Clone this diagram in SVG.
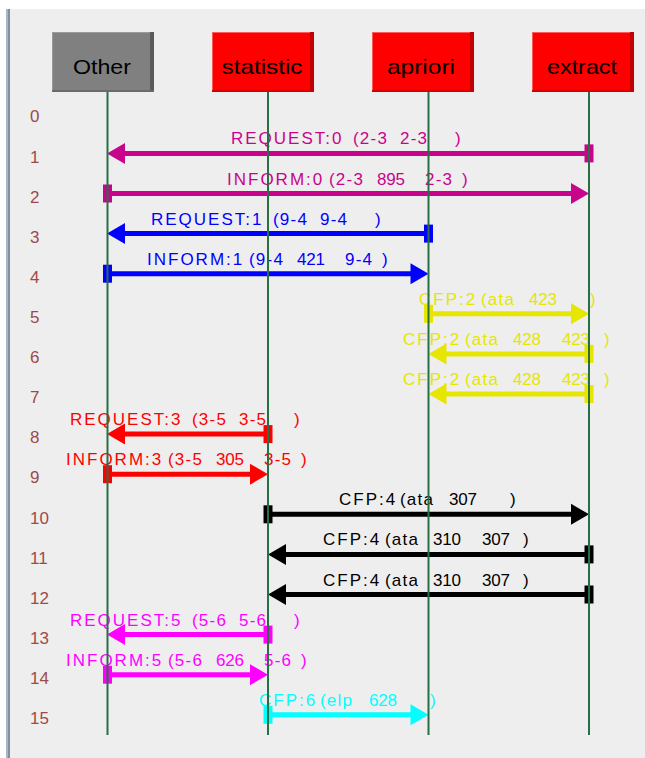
<svg xmlns="http://www.w3.org/2000/svg" xmlns:xlink="http://www.w3.org/1999/xlink" width="645" height="758" viewBox="0 0 645 758">
  <style>
    .name { font-family: "Liberation Sans", Arial, sans-serif; font-size: 21px; fill: #000; text-anchor: middle; }
    .lbl { font-family: "Liberation Sans", Arial, sans-serif; font-size: 17px; }
    .w { letter-spacing: 2px; }
    .p { letter-spacing: 1.2px; }
    .d { letter-spacing: -0.2px; }
    .num { font-family: "Liberation Sans", Arial, sans-serif; font-size: 17px; fill: #9e4a4a; }
    .life { stroke: #267044; stroke-width: 2; }
    .shaft { stroke-width: 5; }
  </style>
  <defs>
    <!-- arrowhead, tip at origin pointing +x -->
    <path id="hd" d="M0 0 L-18 -10.5 L-18 10.5 Z"/>
    <!-- start tick, centred on origin -->
    <rect id="tk" x="-4.5" y="-9" width="9" height="18"/>
  </defs>

  <!-- panel -->
  <rect x="0" y="0" width="645" height="758" fill="#ffffff"/>
  <rect x="6" y="9" width="639" height="749" fill="#eeeeee"/>
  <rect x="6" y="9" width="2" height="749" fill="#aab6c4"/>
  <rect x="8" y="9" width="2" height="749" fill="#7f90a4"/>

  <!-- row numbers -->
  <g id="rows" class="num">
    <text x="30" y="122">0</text>
    <text x="30" y="162.6">1</text>
    <text x="30" y="202.7">2</text>
    <text x="30" y="242.8">3</text>
    <text x="30" y="282.9">4</text>
    <text x="30" y="323">5</text>
    <text x="30" y="363.1">6</text>
    <text x="30" y="403.2">7</text>
    <text x="30" y="443.3">8</text>
    <text x="30" y="483.4">9</text>
    <text x="30" y="523.5">10</text>
    <text x="30" y="563.6">11</text>
    <text x="30" y="603.7">12</text>
    <text x="30" y="643.8">13</text>
    <text x="30" y="683.9">14</text>
    <text x="30" y="724">15</text>
  </g>

  <!-- messages -->
  <g id="connectors" class="lbl">
    <g id="m1" transform="translate(0,153.4)" fill="#c8048c">
      <line class="shaft" x1="589" y1="0" x2="120" y2="0" stroke="#c8048c"/>
      <use xlink:href="#tk" x="589"/>
      <use xlink:href="#hd" transform="translate(107,0) scale(-1,1)"/>
      <text y="-9"><tspan class="w" x="231">REQUEST:0</tspan><tspan class="p" x="353">(2-3</tspan><tspan class="p" x="400">2-3</tspan><tspan x="455">)</tspan></text>
    </g>
    <g id="m2" transform="translate(0,193.5)" fill="#c8048c">
      <line class="shaft" x1="107" y1="0" x2="576" y2="0" stroke="#c8048c"/>
      <use xlink:href="#tk" x="107.5"/>
      <use xlink:href="#hd" transform="translate(589,0)"/>
      <text y="-9"><tspan class="w" x="227">INFORM:0</tspan><tspan class="p" x="329">(2-3</tspan><tspan class="d" x="377">895</tspan><tspan class="p" x="425">2-3</tspan><tspan x="462">)</tspan></text>
    </g>
    <g id="m3" transform="translate(0,233.6)" fill="#0000ff">
      <line class="shaft" x1="428.5" y1="0" x2="120" y2="0" stroke="#0000ff"/>
      <use xlink:href="#tk" x="428.5"/>
      <use xlink:href="#hd" transform="translate(107,0) scale(-1,1)"/>
      <text y="-9"><tspan class="w" x="151">REQUEST:1</tspan><tspan class="p" x="273">(9-4</tspan><tspan class="p" x="320">9-4</tspan><tspan x="375">)</tspan></text>
    </g>
    <g id="m4" transform="translate(0,273.7)" fill="#0000ff">
      <line class="shaft" x1="107" y1="0" x2="416" y2="0" stroke="#0000ff"/>
      <use xlink:href="#tk" x="107.5"/>
      <use xlink:href="#hd" transform="translate(428.5,0)"/>
      <text y="-9"><tspan class="w" x="147">INFORM:1</tspan><tspan class="p" x="249">(9-4</tspan><tspan class="d" x="297">421</tspan><tspan class="p" x="345">9-4</tspan><tspan x="382">)</tspan></text>
    </g>
    <g id="m5" transform="translate(0,313.8)" fill="#e6e600">
      <line class="shaft" x1="428.5" y1="0" x2="576" y2="0" stroke="#e6e600"/>
      <use xlink:href="#tk" x="428.5"/>
      <use xlink:href="#hd" transform="translate(589,0)"/>
      <text y="-9"><tspan class="w" x="419">CFP:2</tspan><tspan class="p" x="481">(ata</tspan><tspan class="d" x="529">423</tspan><tspan x="590">)</tspan></text>
    </g>
    <g id="m6" transform="translate(0,353.9)" fill="#e6e600">
      <line class="shaft" x1="589" y1="0" x2="441" y2="0" stroke="#e6e600"/>
      <use xlink:href="#tk" x="589"/>
      <use xlink:href="#hd" transform="translate(428.5,0) scale(-1,1)"/>
      <text y="-9"><tspan class="w" x="403">CFP:2</tspan><tspan class="p" x="465">(ata</tspan><tspan class="d" x="513">428</tspan><tspan class="d" x="562">423</tspan><tspan x="604">)</tspan></text>
    </g>
    <g id="m7" transform="translate(0,394)" fill="#e6e600">
      <line class="shaft" x1="589" y1="0" x2="441" y2="0" stroke="#e6e600"/>
      <use xlink:href="#tk" x="589"/>
      <use xlink:href="#hd" transform="translate(428.5,0) scale(-1,1)"/>
      <text y="-9"><tspan class="w" x="403">CFP:2</tspan><tspan class="p" x="465">(ata</tspan><tspan class="d" x="513">428</tspan><tspan class="d" x="562">423</tspan><tspan x="604">)</tspan></text>
    </g>
    <g id="m8" transform="translate(0,434.1)" fill="#ff0000">
      <line class="shaft" x1="268" y1="0" x2="120" y2="0" stroke="#ff0000"/>
      <use xlink:href="#tk" x="268"/>
      <use xlink:href="#hd" transform="translate(107,0) scale(-1,1)"/>
      <text y="-9"><tspan class="w" x="70">REQUEST:3</tspan><tspan class="p" x="192">(3-5</tspan><tspan class="p" x="239">3-5</tspan><tspan x="294">)</tspan></text>
    </g>
    <g id="m9" transform="translate(0,474.2)" fill="#ff0000">
      <line class="shaft" x1="107" y1="0" x2="255" y2="0" stroke="#ff0000"/>
      <use xlink:href="#tk" x="107.5"/>
      <use xlink:href="#hd" transform="translate(268,0)"/>
      <text y="-9"><tspan class="w" x="66">INFORM:3</tspan><tspan class="p" x="168">(3-5</tspan><tspan class="d" x="216">305</tspan><tspan class="p" x="264">3-5</tspan><tspan x="301">)</tspan></text>
    </g>
    <g id="m10" transform="translate(0,514.3)" fill="#000000">
      <line class="shaft" x1="268" y1="0" x2="576" y2="0" stroke="#000000"/>
      <use xlink:href="#tk" x="268"/>
      <use xlink:href="#hd" transform="translate(589,0)"/>
      <text y="-9"><tspan class="w" x="339">CFP:4</tspan><tspan class="p" x="400">(ata</tspan><tspan class="d" x="449">307</tspan><tspan x="510">)</tspan></text>
    </g>
    <g id="m11" transform="translate(0,554.4)" fill="#000000">
      <line class="shaft" x1="589" y1="0" x2="281" y2="0" stroke="#000000"/>
      <use xlink:href="#tk" x="589"/>
      <use xlink:href="#hd" transform="translate(268,0) scale(-1,1)"/>
      <text y="-9"><tspan class="w" x="323">CFP:4</tspan><tspan class="p" x="385">(ata</tspan><tspan class="d" x="433">310</tspan><tspan class="d" x="482">307</tspan><tspan x="523">)</tspan></text>
    </g>
    <g id="m12" transform="translate(0,594.5)" fill="#000000">
      <line class="shaft" x1="589" y1="0" x2="281" y2="0" stroke="#000000"/>
      <use xlink:href="#tk" x="589"/>
      <use xlink:href="#hd" transform="translate(268,0) scale(-1,1)"/>
      <text y="-9"><tspan class="w" x="323">CFP:4</tspan><tspan class="p" x="385">(ata</tspan><tspan class="d" x="433">310</tspan><tspan class="d" x="482">307</tspan><tspan x="523">)</tspan></text>
    </g>
    <g id="m13" transform="translate(0,634.6)" fill="#ff00ff">
      <line class="shaft" x1="268" y1="0" x2="120" y2="0" stroke="#ff00ff"/>
      <use xlink:href="#tk" x="268"/>
      <use xlink:href="#hd" transform="translate(107,0) scale(-1,1)"/>
      <text y="-9"><tspan class="w" x="70">REQUEST:5</tspan><tspan class="p" x="192">(5-6</tspan><tspan class="p" x="239">5-6</tspan><tspan x="294">)</tspan></text>
    </g>
    <g id="m14" transform="translate(0,674.7)" fill="#ff00ff">
      <line class="shaft" x1="107" y1="0" x2="255" y2="0" stroke="#ff00ff"/>
      <use xlink:href="#tk" x="107.5"/>
      <use xlink:href="#hd" transform="translate(268,0)"/>
      <text y="-9"><tspan class="w" x="66">INFORM:5</tspan><tspan class="p" x="168">(5-6</tspan><tspan class="d" x="216">626</tspan><tspan class="p" x="264">5-6</tspan><tspan x="301">)</tspan></text>
    </g>
    <g id="m15" transform="translate(0,714.8)" fill="#00ffff">
      <line class="shaft" x1="268" y1="0" x2="416" y2="0" stroke="#00ffff"/>
      <use xlink:href="#tk" x="268"/>
      <use xlink:href="#hd" transform="translate(428.5,0)"/>
      <text y="-9"><tspan class="w" x="259">CFP:6</tspan><tspan class="p" x="320">(elp</tspan><tspan class="d" x="369">628</tspan><tspan x="430">)</tspan></text>
    </g>
  </g>

  <!-- agents: header box and lifeline -->
  <g id="node-other">
    <rect x="52" y="32" width="102" height="60" fill="#808080"/>
    <rect x="52" y="32" width="102" height="1" fill="#9a9a9a"/>
    <rect x="52" y="32" width="1" height="60" fill="#9a9a9a"/>
    <rect x="150" y="32" width="4" height="60" fill="#5a5a5a"/>
    <rect x="52" y="90" width="102" height="2" fill="#6a6a6a"/>
    <text class="name" x="102" y="73.5" textLength="58" lengthAdjust="spacingAndGlyphs">Other</text>
    <line class="life" x1="107.5" y1="92" x2="107.5" y2="735"/>
  </g>
  <g id="node-statistic">
    <rect x="212" y="32" width="102" height="60" fill="#ff0000"/>
    <rect x="212" y="32" width="102" height="1" fill="#ff5a5a"/>
    <rect x="212" y="32" width="1" height="60" fill="#ff5a5a"/>
    <rect x="310" y="32" width="4" height="60" fill="#c00000"/>
    <rect x="212" y="90" width="102" height="2" fill="#d40000"/>
    <text class="name" x="262" y="73.5" textLength="81" lengthAdjust="spacingAndGlyphs">statistic</text>
    <line class="life" x1="268" y1="92" x2="268" y2="735"/>
  </g>
  <g id="node-apriori">
    <rect x="372" y="32" width="102" height="60" fill="#ff0000"/>
    <rect x="372" y="32" width="102" height="1" fill="#ff5a5a"/>
    <rect x="372" y="32" width="1" height="60" fill="#ff5a5a"/>
    <rect x="470" y="32" width="4" height="60" fill="#c00000"/>
    <rect x="372" y="90" width="102" height="2" fill="#d40000"/>
    <text class="name" x="421" y="73.5" textLength="68" lengthAdjust="spacingAndGlyphs">apriori</text>
    <line class="life" x1="428.5" y1="92" x2="428.5" y2="735"/>
  </g>
  <g id="node-extract">
    <rect x="532" y="32" width="102" height="60" fill="#ff0000"/>
    <rect x="532" y="32" width="102" height="1" fill="#ff5a5a"/>
    <rect x="532" y="32" width="1" height="60" fill="#ff5a5a"/>
    <rect x="630" y="32" width="4" height="60" fill="#c00000"/>
    <rect x="532" y="90" width="102" height="2" fill="#d40000"/>
    <text class="name" x="582" y="73.5" textLength="70" lengthAdjust="spacingAndGlyphs">extract</text>
    <line class="life" x1="589" y1="92" x2="589" y2="735"/>
  </g>
</svg>
